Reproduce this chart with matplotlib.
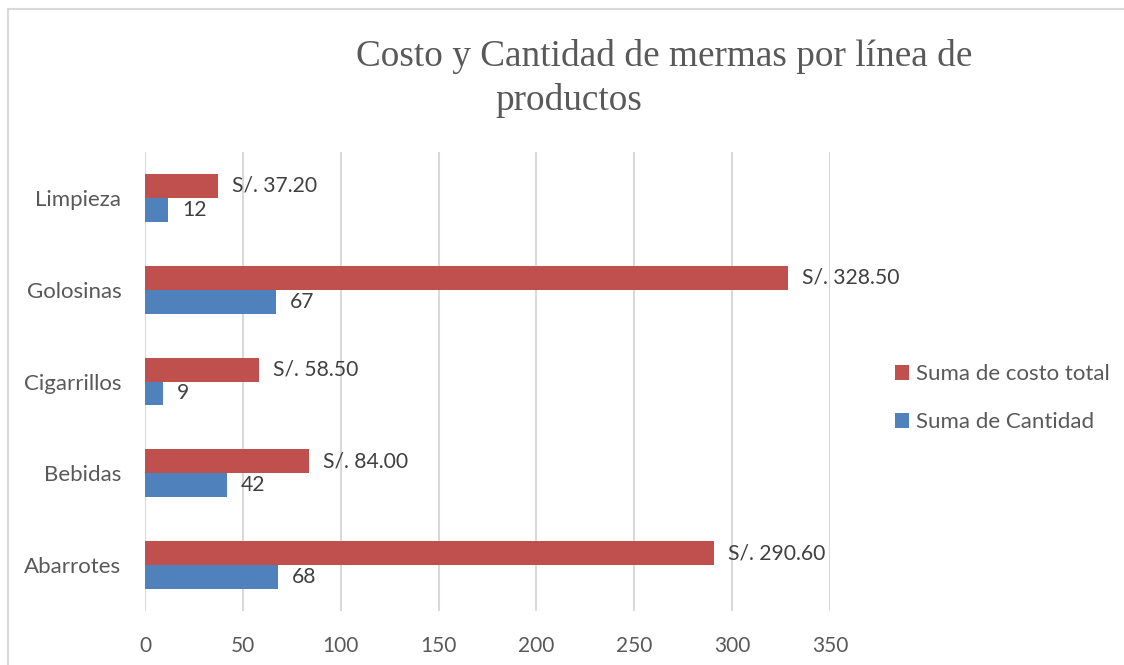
import matplotlib
matplotlib.use("Agg")
import matplotlib.pyplot as plt
from matplotlib.patches import Rectangle
import numpy as np

categories = ["Abarrotes", "Bebidas", "Cigarrillos", "Golosinas", "Limpieza"]
costo_total = [290.60, 84.00, 58.50, 328.50, 37.20]
cantidad = [68, 42, 9, 67, 12]
xticks = [0, 50, 100, 150, 200, 250, 300, 350]

RED = "#C0504D"
BLUE = "#4F81BD"
TXT = "#595959"
LBL = "#404040"
SANS = ["Lato", "DejaVu Sans"]
SERIF = ["Liberation Serif", "DejaVu Serif"]

fig = plt.figure(figsize=(11.24, 6.65), dpi=100)
W, H = 1124, 665

# outer chart border
fig.patches.append(Rectangle((8 / W, -0.1), 1.2, 1 - 9 / H + 0.1, transform=fig.transFigure,
                             fill=False, edgecolor="#D9D9D9", linewidth=1.5))

ax = fig.add_axes([145 / W, 1 - 611 / H, (830 - 145) / W, (611 - 152) / H])
y = np.arange(len(categories))
h = 0.26
ax.barh(y + h / 2, costo_total, height=h, color=RED, label="Suma de costo total", zorder=3)
ax.barh(y - h / 2, cantidad, height=h, color=BLUE, label="Suma de Cantidad", zorder=3)

for yi, v in zip(y, costo_total):
    ax.annotate(f"S/. {v:.2f}", (v, yi + h / 2), xytext=(10, 0), textcoords="offset points",
                va="center", ha="left", fontsize=15.2, color=LBL, family=SANS)
for yi, v in zip(y, cantidad):
    ax.annotate(f"{v}", (v, yi - h / 2), xytext=(10, 0), textcoords="offset points",
                va="center", ha="left", fontsize=15.2, color=LBL, family=SANS)

ax.set_xlim(0, 350)
ax.set_ylim(-0.5, len(categories) - 0.5)
ax.set_xticks(xticks)
ax.set_yticks(y)
ax.set_yticklabels(categories)
for lab in ax.get_xticklabels():
    lab.set_family(SANS)
    lab.set_fontsize(15)
    lab.set_color(TXT)
for lab in ax.get_yticklabels():
    lab.set_family(SANS)
    lab.set_fontsize(16)
    lab.set_color(TXT)
ax.tick_params(axis="both", length=0)
ax.tick_params(axis="x", pad=18)
ax.tick_params(axis="y", pad=17)
ax.grid(axis="x", color="#D9D9D9", linewidth=1.5, zorder=0)
for s in ax.spines.values():
    s.set_visible(False)

handles, labels = ax.get_legend_handles_labels()
leg = fig.legend(handles, labels, loc="center left", bbox_to_anchor=(875 / W, 1 - 398 / H),
                 frameon=False, handlelength=0.65, handleheight=0.65, handletextpad=0.3,
                 labelspacing=1.25, prop={"family": SANS, "size": 16})
for t in leg.get_texts():
    t.set_color(TXT)

fig.text(664 / W, 1 - 56 / H, "Costo y Cantidad de mermas por línea de", ha="center", va="center",
         fontsize=26.8, color=TXT, family=SERIF)
fig.text(569 / W, 1 - 100 / H, "productos", ha="center", va="center",
         fontsize=26.8, color=TXT, family=SERIF)

fig.savefig("out.png", dpi=100)
